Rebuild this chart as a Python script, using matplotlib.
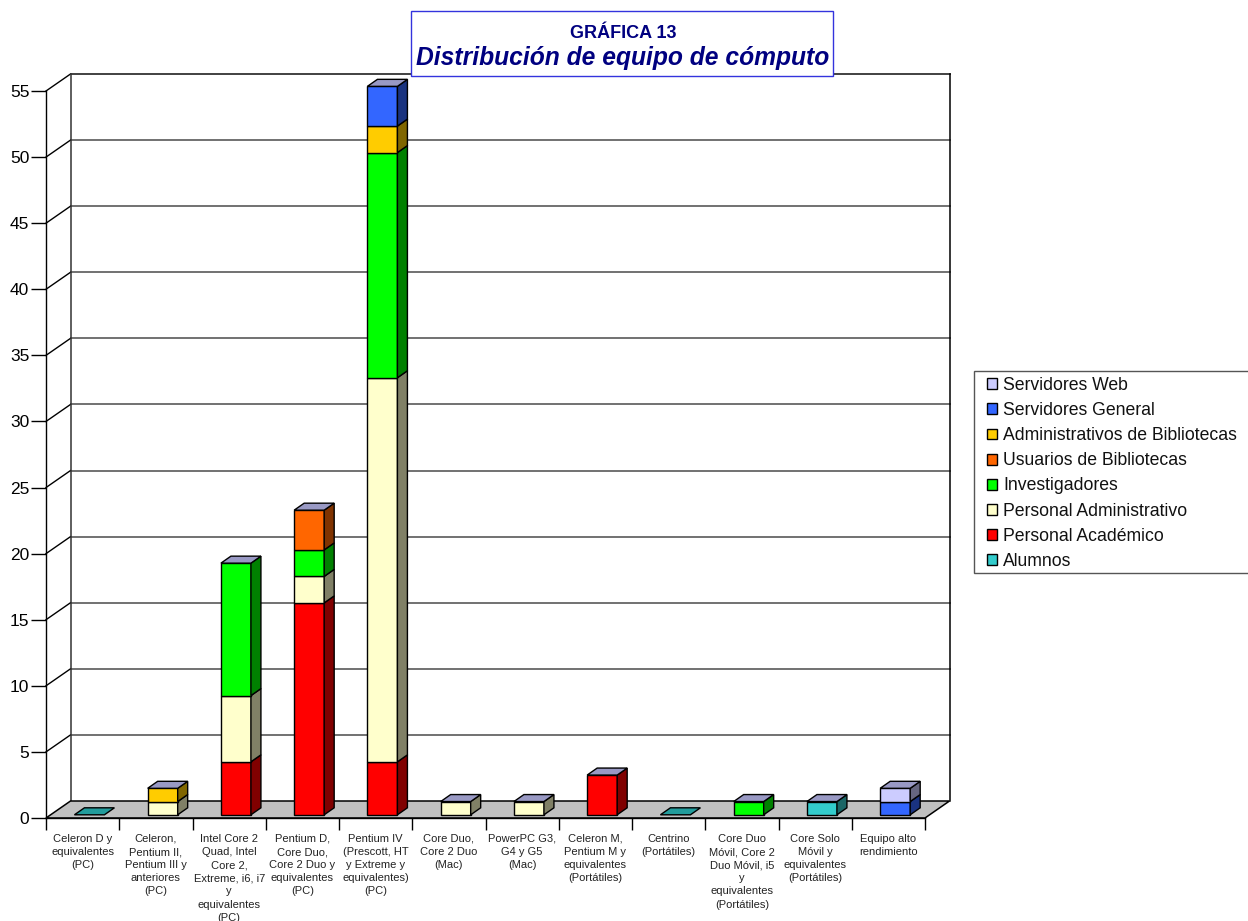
import matplotlib
matplotlib.use("Agg")
import matplotlib.pyplot as plt
from matplotlib.patches import Patch, Polygon, Rectangle
from matplotlib.colors import to_rgb

W, H = 1248, 921

CATEGORIES = [
    "Celeron D y\nequivalentes\n(PC)",
    "Celeron,\nPentium II,\nPentium III y\nanteriores\n(PC)",
    "Intel Core 2\nQuad, Intel\nCore 2,\nExtreme, i6, i7\ny\nequivalentes\n(PC)",
    "Pentium D,\nCore Duo,\nCore 2 Duo y\nequivalentes\n(PC)",
    "Pentium IV\n(Prescott, HT\ny Extreme y\nequivalentes)\n(PC)",
    "Core Duo,\nCore 2 Duo\n(Mac)",
    "PowerPC G3,\nG4 y G5\n(Mac)",
    "Celeron M,\nPentium M y\nequivalentes\n(Portátiles)",
    "Centrino\n(Portátiles)",
    "Core Duo\nMóvil, Core 2\nDuo Móvil, i5\ny\nequivalentes\n(Portátiles)",
    "Core Solo\nMóvil y\nequivalentes\n(Portátiles)",
    "Equipo alto\nrendimiento",
]

SERIES = [
    "Alumnos",
    "Personal Académico",
    "Personal Administrativo",
    "Investigadores",
    "Usuarios de Bibliotecas",
    "Administrativos de Bibliotecas",
    "Servidores General",
    "Servidores Web",
]
COLORS = ["#33CCCC", "#FF0000", "#FFFFCC", "#00FF00", "#FF6600", "#FFCC00", "#3366FF", "#CCCCFF"]

alumnos = [0, 0, 0, 0, 0, 0, 0, 0, 0, 0, 1, 0]
academico = [0, 0, 4, 16, 4, 0, 0, 3, 0, 0, 0, 0]
administrativo = [0, 1, 5, 2, 29, 1, 1, 0, 0, 0, 0, 0]
investigadores = [0, 0, 10, 2, 17, 0, 0, 0, 0, 1, 0, 0]
usuarios = [0, 0, 0, 3, 0, 0, 0, 0, 0, 0, 0, 0]
admin_bib = [0, 1, 0, 0, 2, 0, 0, 0, 0, 0, 0, 0]
serv_general = [0, 0, 0, 0, 3, 0, 0, 0, 0, 0, 0, 1]
serv_web = [0, 0, 0, 0, 0, 0, 0, 0, 0, 0, 0, 1]
VALUES = [alumnos, academico, administrativo, investigadores, usuarios, admin_bib, serv_general, serv_web]

TOP_COLOR = "#9999C4"
FLAT_COLOR = "#229C9C"
FLOOR = "#C0C0C0"
GRID = "#666666"

plt.rcParams["font.family"] = ["Liberation Sans", "DejaVu Sans"]

fig = plt.figure(figsize=(W / 100, H / 100), dpi=100)
left, right, top, bottom = 46, 925, 91, 818
ax = fig.add_axes([left / W, (H - bottom) / H, (right - left) / W, (bottom - top) / H])
ax.set_xlim(0, 12)
ax.set_ylim(0, 55)
ax.patch.set_visible(False)

# pixels -> data units for the fake depth
ux = 12 / (right - left)
uy = 55 / (bottom - top)
DEPTH_X, DEPTH_Y = 24.5 * ux, 17 * uy


def dark(color):
    return tuple(c * 0.5 for c in to_rgb(color))


# walls and floor
ax.add_patch(Polygon([(0, 0), (DEPTH_X, DEPTH_Y), (12 + DEPTH_X, DEPTH_Y), (12, 0)],
                     facecolor=FLOOR, edgecolor="black", lw=1.1, clip_on=False, zorder=2))
for v in range(5, 51, 5):
    ax.plot([DEPTH_X, 12 + DEPTH_X], [v + DEPTH_Y] * 2, color=GRID, lw=1.3, clip_on=False, zorder=1)
for v in range(5, 56, 5):
    ax.plot([0, DEPTH_X], [v, v + DEPTH_Y], color="black", lw=1.0, clip_on=False, zorder=1)
ax.plot([DEPTH_X, 12 + DEPTH_X], [55 + DEPTH_Y] * 2, color="#333333", lw=1.3, clip_on=False, zorder=1)
ax.plot([DEPTH_X, DEPTH_X], [DEPTH_Y, 55 + DEPTH_Y], color="#333333", lw=1.1, clip_on=False, zorder=1)
ax.plot([12 + DEPTH_X] * 2, [DEPTH_Y, 55 + DEPTH_Y], color="black", lw=1.1, clip_on=False, zorder=1)

# bars, stacked by hand because of the 3D look
BAR_W = 30 * ux
BAR_DX, BAR_DY = 10 * ux, 7 * uy
X_SHIFT, Y_SHIFT = 6.8 * ux, 3.2 * uy
SCALE = 1.002

for i in range(len(CATEGORIES)):
    x0 = i + 0.5 + X_SHIFT - BAR_W / 2
    x1 = x0 + BAR_W
    base = Y_SHIFT
    total = sum(s[i] for s in VALUES)
    if total == 0:
        ax.add_patch(Polygon([(x0, base), (x1, base), (x1 + BAR_DX, base + BAR_DY), (x0 + BAR_DX, base + BAR_DY)],
                             facecolor=FLAT_COLOR, edgecolor="black", lw=1.0, clip_on=False, zorder=3))
        continue
    for s, color in zip(VALUES, COLORS):
        if s[i] == 0:
            continue
        y1 = base + s[i] * SCALE
        ax.add_patch(Rectangle((x0, base), BAR_W, y1 - base, facecolor=color, edgecolor="black",
                               lw=1.0, clip_on=False, zorder=3))
        ax.add_patch(Polygon([(x1, base), (x1 + BAR_DX, base + BAR_DY), (x1 + BAR_DX, y1 + BAR_DY), (x1, y1)],
                             facecolor=dark(color), edgecolor="black", lw=1.0, clip_on=False, zorder=3))
        base = y1
    ax.add_patch(Polygon([(x0, base), (x1, base), (x1 + BAR_DX, base + BAR_DY), (x0 + BAR_DX, base + BAR_DY)],
                         facecolor=TOP_COLOR, edgecolor="black", lw=1.0, clip_on=False, zorder=3))

# axes
for side in ("top", "right"):
    ax.spines[side].set_visible(False)
for side in ("left", "bottom"):
    ax.spines[side].set_linewidth(1.0)
    ax.spines[side].set_zorder(4)
ax.set_yticks(range(0, 56, 5))
ax.tick_params(axis="y", length=10.8, width=1.0, pad=1.2, labelsize=12.5)
ax.set_xticks(range(13))
ax.set_xticklabels([])
ax.tick_params(axis="x", which="major", length=8.6, width=1.0)
ax.set_xticks([i + 0.5 for i in range(12)], minor=True)
ax.set_xticklabels(CATEGORIES, minor=True, fontsize=8, linespacing=1.39)
ax.tick_params(axis="x", which="minor", length=0, pad=11.5, colors="#222222")

# title box sits above the top grid line
fig.add_artist(Rectangle((411 / W, 1 - 76 / H), 422 / W, 65 / H, facecolor="white", edgecolor="#3333DD",
                         lw=1.0, transform=fig.transFigure, zorder=5))
fig.text(623 / W, 1 - 33 / H, "GRÁFICA 13", ha="center", va="center", fontsize=13,
         fontweight="bold", color="#000080", zorder=6)
fig.text(622.5 / W, 1 - 57.5 / H, "Distribución de equipo de cómputo", ha="center", va="center", fontsize=17.7,
         fontweight="bold", fontstyle="italic", color="#000080", zorder=6)

# legend frame runs off the right edge of the picture, so it is drawn apart
fig.add_artist(Rectangle((974 / W, 1 - 573 / H), 290 / W, 202 / H, facecolor="white", edgecolor="#555555",
                         lw=1.0, transform=fig.transFigure, zorder=1))
handles = [Patch(facecolor=c, edgecolor="black", lw=1.0, label=s) for s, c in zip(SERIES, COLORS)]
legend = fig.legend(handles=handles[::-1], loc="upper left", bbox_to_anchor=(987 / W, 1 - 377 / H), borderaxespad=0,
                    fontsize=12.7, frameon=False, handlelength=0.57, handleheight=0.57,
                    handletextpad=0.34, labelspacing=0.46, borderpad=0, labelcolor="#111111")
legend.set_zorder(2)

fig.savefig("out.png", dpi=100)
